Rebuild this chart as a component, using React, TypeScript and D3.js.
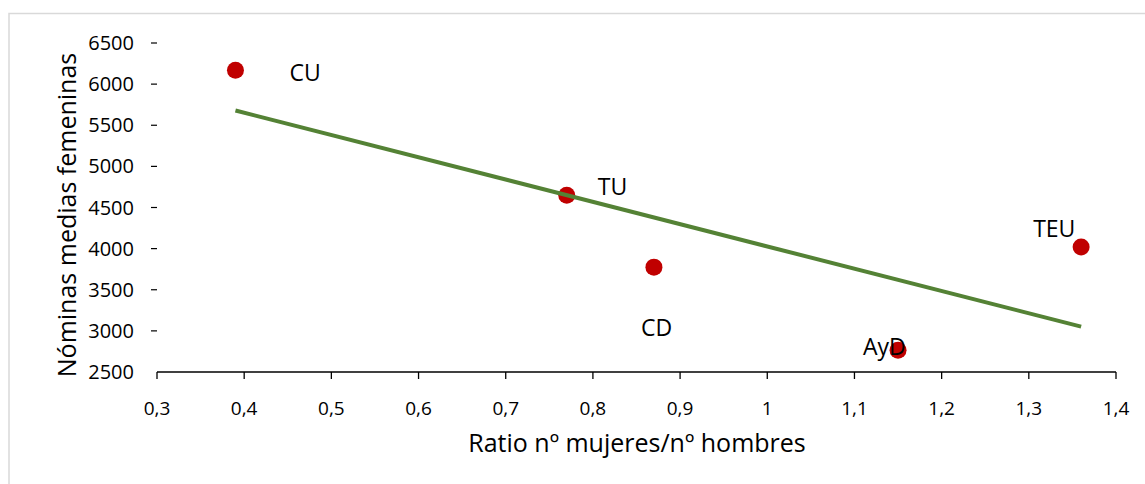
import React from "react";
import * as d3 from "d3";

const categories = ["CU", "TU", "CD", "AyD", "TEU"];
const ratioValues = [0.39, 0.77, 0.87, 1.15, 1.36];
const salaryValues = [6170, 4650, 3775, 2765, 4020];
const xTicks = [0.3, 0.4, 0.5, 0.6, 0.7, 0.8, 0.9, 1.0, 1.1, 1.2, 1.3, 1.4];
const yTicks = [2500, 3000, 3500, 4000, 4500, 5000, 5500, 6000, 6500];
const xTitle = "Ratio nº mujeres/nº hombres";
const yTitle = "Nóminas medias femeninas";

// label placement relative to each point (layout only)
const labelOffsets: [number, number][] = [
  [54, 3],
  [31, -8],
  [-13, 61],
  [-35, -3],
  [-48, -18],
];

const W = 1145;
const H = 484;
const FONT = "'Open Sans', sans-serif";

export default function App() {
  const x = d3.scaleLinear().domain([0.3, 1.4]).range([157, 1116]);
  const y = d3.scaleLinear().domain([2500, 6500]).range([372, 43]);

  const n = ratioValues.length;
  const mx = d3.mean(ratioValues)!;
  const my = d3.mean(salaryValues)!;
  let sxy = 0;
  let sxx = 0;
  for (let i = 0; i < n; i++) {
    sxy += (ratioValues[i] - mx) * (salaryValues[i] - my);
    sxx += (ratioValues[i] - mx) ** 2;
  }
  const slope = sxy / sxx;
  const intercept = my - slope * mx;
  const x0 = d3.min(ratioValues)!;
  const x1 = d3.max(ratioValues)!;
  const trend = d3.line<number>()
    .x((d) => x(d))
    .y((d) => y(intercept + slope * d))([x0, x1]);

  const fmt = (v: number) => (Number.isInteger(v) ? String(v) : String(v).replace(".", ","));

  return (
    <svg
      width={W}
      height={H}
      style={{ position: "absolute", left: 0, top: 0, background: "#fff" }}
      fontFamily={FONT}
    >
      <rect x={0} y={0} width={W} height={H} fill="#fff" />
      <rect x={9} y={13.5} width={W + 20} height={H + 20} fill="none" stroke="#d9d9d9" strokeWidth={1.5} />

      {/* y ticks */}
      {yTicks.map((t) => (
        <g key={"y" + t}>
          {t !== 2500 && (
            <line x1={151} x2={157} y1={y(t)} y2={y(t)} stroke="#000" strokeWidth={1.2} />
          )}
          <text x={134} y={y(t)} dy="0.35em" textAnchor="end" fontSize={20} fill="#000">
            {t}
          </text>
        </g>
      ))}

      {/* x axis */}
      <line x1={x(0.3)} x2={x(1.4)} y1={y(2500)} y2={y(2500)} stroke="#000" strokeWidth={1.3} />
      {xTicks.map((t) => (
        <g key={"x" + t}>
          <line x1={x(t)} x2={x(t)} y1={y(2500)} y2={y(2500) + 7} stroke="#000" strokeWidth={1.3} />
          <text x={x(t)} y={408} dy="0.35em" textAnchor="middle" fontSize={19} fill="#000">
            {fmt(t)}
          </text>
        </g>
      ))}

      {/* axis titles */}
      <text x={637} y={443} dy="0.35em" textAnchor="middle" fontSize={25} fill="#000">
        {xTitle}
      </text>
      <text
        transform={`translate(67, 215) rotate(-90)`}
        dy="0.35em"
        textAnchor="middle"
        fontSize={25}
        fill="#000"
      >
        {yTitle}
      </text>

      {/* points */}
      {ratioValues.map((v, i) => (
        <circle key={"p" + i} cx={x(v)} cy={y(salaryValues[i])} r={8.5} fill="#c00000" />
      ))}

      {/* trend line */}
      <path d={trend!} fill="none" stroke="#548235" strokeWidth={4} />

      {/* labels */}
      {categories.map((c, i) => (
        <text
          key={"l" + c}
          x={x(ratioValues[i]) + labelOffsets[i][0]}
          y={y(salaryValues[i]) + labelOffsets[i][1]}
          dy="0.35em"
          fontSize={23}
          fill="#000"
        >
          {c}
        </text>
      ))}
    </svg>
  );
}
